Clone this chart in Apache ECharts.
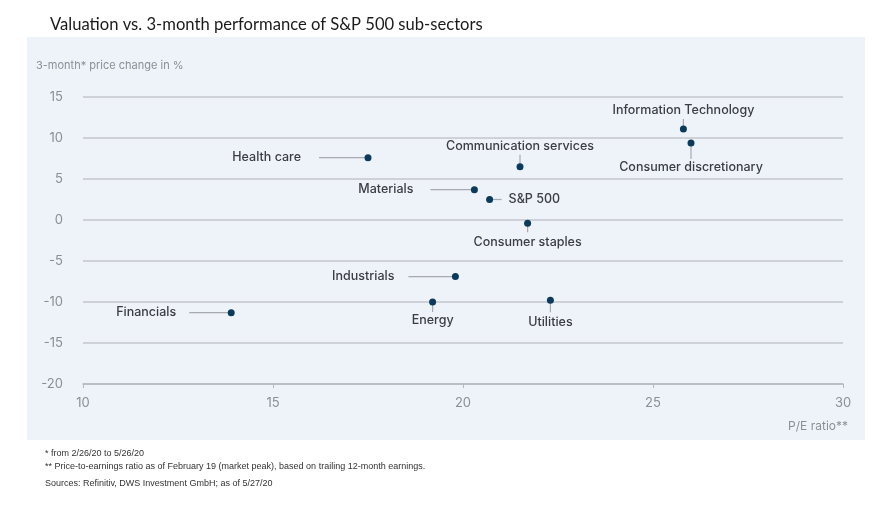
<!DOCTYPE html>
<html><head><meta charset="utf-8">
<script src="https://cdn.jsdelivr.net/npm/echarts@6/dist/echarts.min.js"></script>
<style>html,body{margin:0;padding:0;background:#fff}#c{width:883px;height:509px}</style>
</head><body><div id="c"></div>
<script>
// ---- data ----
const sectors = ['Health care','Materials','S&P 500','Communication services','Consumer staples','Information Technology','Consumer discretionary','Industrials','Energy','Utilities','Financials'];
const peRatio = [17.5, 20.3, 20.7, 21.5, 21.7, 25.8, 26.0, 19.8, 19.2, 22.3, 13.9];
const priceChange = [7.6, 3.7, 2.5, 6.5, -0.4, 11.1, 9.4, -6.9, -10.0, -9.8, -11.3];
const xTicks = [10, 15, 20, 25, 30];
const yTicks = [-20, -15, -10, -5, 0, 5, 10, 15];
const titleText = 'Valuation vs. 3-month performance of S&P 500 sub-sectors';
const yAxisName = '3-month* price change in %';
const xAxisName = 'P/E ratio**';
const footnotes = ['* from 2/26/20 to 5/26/20', '** Price-to-earnings ratio as of February 19 (market peak), based on trailing 12-month earnings.'];
const sourceText = 'Sources: Refinitiv, DWS Investment GmbH; as of 5/27/20';

// ---- label placement (style only): side, leader end distance, text distance (px) ----
const placement = {
  'Health care': ['left', 49, 67],
  'Materials': ['left', 44, 61],
  'S&P 500': ['right', 12, 19],
  'Communication services': ['top', 12, 20],
  'Consumer staples': ['bottom', 9, 19],
  'Information Technology': ['top', 10, 19],
  'Consumer discretionary': ['bottom', 16, 24],
  'Industrials': ['left', 47, 61],
  'Energy': ['bottom', 10, 18],
  'Utilities': ['bottom', 12, 22],
  'Financials': ['left', 42, 55]
};

const points = sectors.map((s, i) => [peRatio[i], priceChange[i], s]);
const dotColor = '#0b3a5c';

const chart = echarts.init(document.getElementById('c'), null, {renderer: 'canvas'});
chart.setOption({
  animation: false,
  backgroundColor: '#ffffff',
  title: {
    text: titleText, left: 45, top: 11,
    textStyle: {fontFamily: 'Lato', fontSize: 16.6, fontWeight: 'normal', color: '#1a1a1a'}
  },
  graphic: [
    {type: 'rect', z: -10, silent: true, shape: {x: 27, y: 37, width: 838, height: 403}, style: {fill: '#eef2f9'}},
    {type: 'text', left: 45, top: 449, style: {text: footnotes[0], font: '9px "Liberation Sans"', fill: '#333'}},
    {type: 'text', left: 45, top: 462, style: {text: footnotes[1], font: '9px "Liberation Sans"', fill: '#333'}},
    {type: 'text', left: 45, top: 479, style: {text: sourceText, font: '9px "Liberation Sans"', fill: '#333'}}
  ],
  grid: {left: 83, right: 40, top: 97, bottom: 125, containLabel: false},
  xAxis: {
    type: 'value', min: xTicks[0], max: xTicks[xTicks.length - 1], interval: 5,
    name: xAxisName, nameLocation: 'end', nameGap: 0,
    nameTextStyle: {color: '#8a8f96', fontSize: 12, fontFamily: 'Inter', align: 'right', verticalAlign: 'top', padding: [36, -5, 0, 0]},
    axisLine: {show: true, onZero: false, lineStyle: {color: '#b4b8be', width: 1.5}},
    axisTick: {show: true, length: 4, lineStyle: {color: '#b4b8be'}},
    axisLabel: {color: '#8a8f96', fontSize: 13, fontFamily: 'Inter', margin: 13},
    splitLine: {show: false}
  },
  yAxis: {
    type: 'value', min: yTicks[0], max: yTicks[yTicks.length - 1], interval: 5,
    name: yAxisName, nameLocation: 'end', nameGap: 26,
    nameTextStyle: {color: '#8a8f96', fontSize: 11, fontFamily: 'Inter', align: 'left', padding: [0, 0, 0, -47]},
    axisLine: {show: false}, axisTick: {show: false},
    axisLabel: {color: '#8a8f96', fontSize: 13, fontFamily: 'Inter', margin: 20},
    splitLine: {show: true, lineStyle: {color: '#c3c7cd', width: 1.5}}
  },
  series: [
    {
      type: 'custom', z: 2, data: points, silent: true,
      renderItem: function (params, api) {
        const p = api.coord([api.value(0), api.value(1)]);
        const name = sectors[params.dataIndex];
        const pl = placement[name];
        const side = pl[0], ll = pl[1], td = pl[2];
        let dir = [0, 0], align = 'center', valign = 'middle';
        if (side === 'left') { dir = [-1, 0]; align = 'right'; }
        else if (side === 'right') { dir = [1, 0]; align = 'left'; }
        else if (side === 'top') { dir = [0, -1]; }
        else { dir = [0, 1]; }
        return {
          type: 'group',
          children: [
            {type: 'line', shape: {x1: p[0], y1: p[1], x2: p[0] + dir[0] * ll, y2: p[1] + dir[1] * ll},
              style: {stroke: '#a7abb1', lineWidth: 1.2}},
            {type: 'text', x: p[0] + dir[0] * td, y: p[1] + dir[1] * td,
              style: {text: name, textAlign: align, textVerticalAlign: valign,
                font: '500 12.5px Inter', fill: '#3a3d42'}}
          ]
        };
      }
    },
    {
      type: 'scatter', z: 3, data: points, symbolSize: 7,
      itemStyle: {color: dotColor, opacity: 1}
    }
  ]
});
</script></body></html>
